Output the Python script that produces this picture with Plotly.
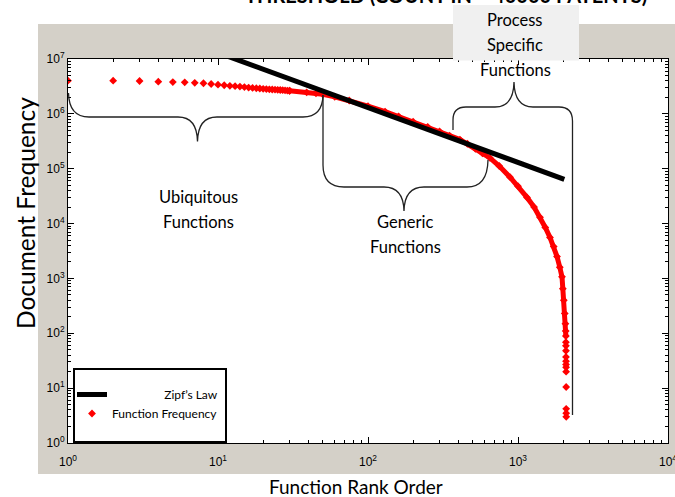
import plotly.graph_objects as go

# ---------------- data ----------------
head_rank = list(range(1, 31))
head_freq = [4.02e6, 4.02e6, 3.97e6, 3.86e6, 3.80e6, 3.76e6, 3.68e6, 3.61e6, 3.50e6, 3.40e6,
             3.32e6, 3.25e6, 3.20e6, 3.14e6, 3.08e6, 3.02e6, 2.97e6, 2.93e6, 2.90e6, 2.86e6,
             2.83e6, 2.80e6, 2.78e6, 2.76e6, 2.74e6, 2.72e6, 2.70e6, 2.68e6, 2.66e6, 2.64e6]

band_rank = [30, 39, 45, 50, 60, 75, 100, 130, 160, 200, 250, 300, 350, 410, 460, 520, 580,
             650, 750, 885, 1000, 1148, 1280, 1402, 1520, 1634, 1730, 1820, 1900, 1965,
             1990, 2020, 2050, 2070, 2080, 2085]
band_freq = [2.64e6, 2.47e6, 2.37e6, 2.27e6, 2.05e6, 1.75e6, 1.38e6, 1.10e6, 9.0e5, 7.2e5,
             5.8e5, 4.8e5, 4.0e5, 3.4e5, 2.85e5, 2.3e5, 1.9e5, 1.57e5, 1.12e5, 7.0e4, 4.8e4,
             3.0e4, 2.0e4, 1.3e4, 8.5e3, 5.6e3, 3.8e3, 2.5e3, 1.6e3, 1070, 650, 400, 230,
             150, 110, 89]

tail_rank = [2086, 2087, 2088, 2089, 2090, 2091, 2092, 2093, 2094, 2095, 2096, 2097]
tail_freq = [69, 59, 48, 37, 31, 27, 24, 20, 10.5, 4.2, 3.5, 3.0]

zipf_rank = [1, 2036]
zipf_freq = [1.3e8, 6.4e4]

x_tickvals = [1, 10, 100, 1000, 10000]
x_ticktext = ["10<sup>0</sup>", "10<sup>1</sup>", "10<sup>2</sup>", "10<sup>3</sup>", "10<sup>4</sup>"]
y_tickvals = [1, 10, 100, 1e3, 1e4, 1e5, 1e6, 1e7]
y_ticktext = ["10<sup>0</sup>", "10<sup>1</sup>", "10<sup>2</sup>", "10<sup>3</sup>",
              "10<sup>4</sup>", "10<sup>5</sup>", "10<sup>6</sup>", "10<sup>7</sup>"]

title_text = "<b>THRESHOLD (COUNT IN ~ 40000 PATENTS)</b>"
x_title = "Function Rank Order"
y_title = "Document Frequency"

# ---------------- layout geometry (pixels) ----------------
W, H = 675, 497
L, R, T, B = 68, 668, 59, 443


def px(x):
    return (x - L) / (R - L)


def py(y):
    return (B - y) / (B - T)


def path(cmds):
    out = []
    for c in cmds:
        op = c[0]
        pts = " ".join(f"{px(p[0]):.5f},{py(p[1]):.5f}" for p in c[1:])
        out.append(f"{op} {pts}")
    return " ".join(out)


RED = "#ff0000"
fig = go.Figure()

fig.add_trace(go.Scatter(x=band_rank, y=band_freq, mode="lines+markers",
                         line=dict(color=RED, width=5),
                         marker=dict(symbol="diamond", size=6, color=RED),
                         showlegend=False, name="Function Frequency"))
fig.add_trace(go.Scatter(x=head_rank, y=head_freq, mode="markers",
                         marker=dict(symbol="diamond", size=6, color=RED),
                         showlegend=True, legendrank=2, name="Function Frequency"))
fig.add_trace(go.Scatter(x=tail_rank, y=tail_freq, mode="markers",
                         marker=dict(symbol="diamond", size=6, color=RED),
                         showlegend=False, name="Function Frequency"))
fig.add_trace(go.Scatter(x=zipf_rank, y=zipf_freq, mode="lines",
                         line=dict(color="black", width=5),
                         showlegend=True, legendrank=1,
                         name="\u00a0" * 17 + "Zipf\u2019s Law"))

brace_col = "#222222"
shapes = [
    # grey figure background
    dict(type="rect", xref="paper", yref="paper", x0=px(38), x1=px(680), y0=py(474), y1=py(24),
         fillcolor="#d4d0c8", line=dict(width=0), layer="below"),
    # white axes area
    dict(type="rect", xref="paper", yref="paper", x0=0, x1=1, y0=0, y1=1,
         fillcolor="white", line=dict(width=0), layer="below"),
    # light box behind "Process Specific"
    dict(type="rect", xref="paper", yref="paper", x0=px(453), x1=px(579), y0=py(60.5), y1=py(5),
         fillcolor="#f0f0f0", line=dict(width=0), layer="above"),
    # Ubiquitous brace
    dict(type="path", xref="paper", yref="paper", layer="above",
         line=dict(color=brace_col, width=1.3),
         path=path([("M", (68.5, 93)), ("Q", (69, 117), (89, 117)), ("L", (178, 117)),
                    ("Q", (197, 117), (197.5, 141.5)), ("Q", (198, 117), (217, 117)),
                    ("L", (303, 117)), ("Q", (322.5, 117), (323, 95))])),
    # Generic brace
    dict(type="path", xref="paper", yref="paper", layer="above",
         line=dict(color=brace_col, width=1.3),
         path=path([("M", (323, 95)), ("L", (323, 165)), ("Q", (323, 187), (344, 187)),
                    ("L", (384, 187)), ("Q", (403.5, 187), (404, 211)),
                    ("Q", (404.5, 187), (424, 187)), ("L", (467, 187)),
                    ("Q", (487.5, 187), (488, 160))])),
    # Process Specific brace
    dict(type="path", xref="paper", yref="paper", layer="above",
         line=dict(color=brace_col, width=1.3),
         path=path([("M", (453, 130)), ("L", (453, 120)), ("Q", (453, 107), (466, 107)),
                    ("L", (495, 107)), ("Q", (513.5, 107), (514, 82)),
                    ("Q", (514.5, 107), (533, 107)), ("L", (559, 107)),
                    ("Q", (572.5, 107), (572.5, 121)), ("L", (572.5, 415))])),
    # legend box
    dict(type="rect", xref="paper", yref="paper", x0=px(74), x1=px(226), y0=py(442), y1=py(369),
         fillcolor="white", line=dict(color="black", width=2), layer="above"),
]

TXT = "Lato"
ann = []


def add_text(text, x, y, size, **kw):
    ann.append(dict(text=text, x=px(x), y=py(y), xref="paper", yref="paper", showarrow=False,
                    xanchor="center", yanchor="middle",
                    font=dict(family=TXT, size=size, color="black"), **kw))


add_text("Ubiquitous", 198, 197, 16.5)
add_text("Functions", 198, 222, 16.5)
add_text("Generic", 405, 222, 16.5)
add_text("Functions", 405, 247, 16.5)
add_text("Process", 515, 20, 16.5)
add_text("Specific", 515, 45, 16.5)
add_text("Functions", 515, 70, 16.5)
add_text(y_title, 25, 213, 24.5, textangle=-90)
add_text(x_title, 356, 486, 19)
ann.append(dict(text=title_text, x=px(446), y=py(9), xref="paper", yref="paper",
                showarrow=False, xanchor="center", yanchor="bottom",
                font=dict(family=TXT, size=20, color="black")))

tickfont = dict(family="Liberation Sans, Arial", size=12, color="black")
minor_x = [m * 10 ** e for e in range(4) for m in range(2, 10)]
minor_y = [m * 10 ** e for e in range(7) for m in range(2, 10)]

fig.update_layout(
    width=W, height=H,
    margin=dict(l=L, r=W - R, t=T, b=H - B, autoexpand=False),
    paper_bgcolor="white", plot_bgcolor="white",
    shapes=shapes, annotations=ann,
    legend=dict(x=px(72), y=py(380), xanchor="left", yanchor="top",
                bgcolor="rgba(0,0,0,0)", borderwidth=0, itemwidth=30,
                font=dict(family=TXT, size=12, color="black"), tracegroupgap=0),
    xaxis=dict(type="log", range=[0, 4], showgrid=False, zeroline=False, automargin=False,
               showline=True, linecolor="black", linewidth=1, mirror="ticks",
               ticks="inside", ticklen=6, tickcolor="black", ticklabelstandoff=8,
               ticklabeloverflow="allow",
               tickvals=x_tickvals, ticktext=x_ticktext, tickfont=tickfont,
               minor=dict(tickvals=minor_x, ticks="inside", ticklen=3, tickcolor="black",
                          showgrid=False)),
    yaxis=dict(type="log", range=[0, 7], showgrid=False, zeroline=False, automargin=False,
               showline=True, linecolor="black", linewidth=1, mirror="ticks",
               ticks="inside", ticklen=6, tickcolor="black", ticklabeloverflow="allow",
               tickvals=y_tickvals, ticktext=y_ticktext, tickfont=tickfont,
               minor=dict(tickvals=minor_y, ticks="inside", ticklen=3, tickcolor="black",
                          showgrid=False)),
)

fig.write_html("out.html", config={"displayModeBar": False},
               post_script="document.body.style.margin='0px';")
